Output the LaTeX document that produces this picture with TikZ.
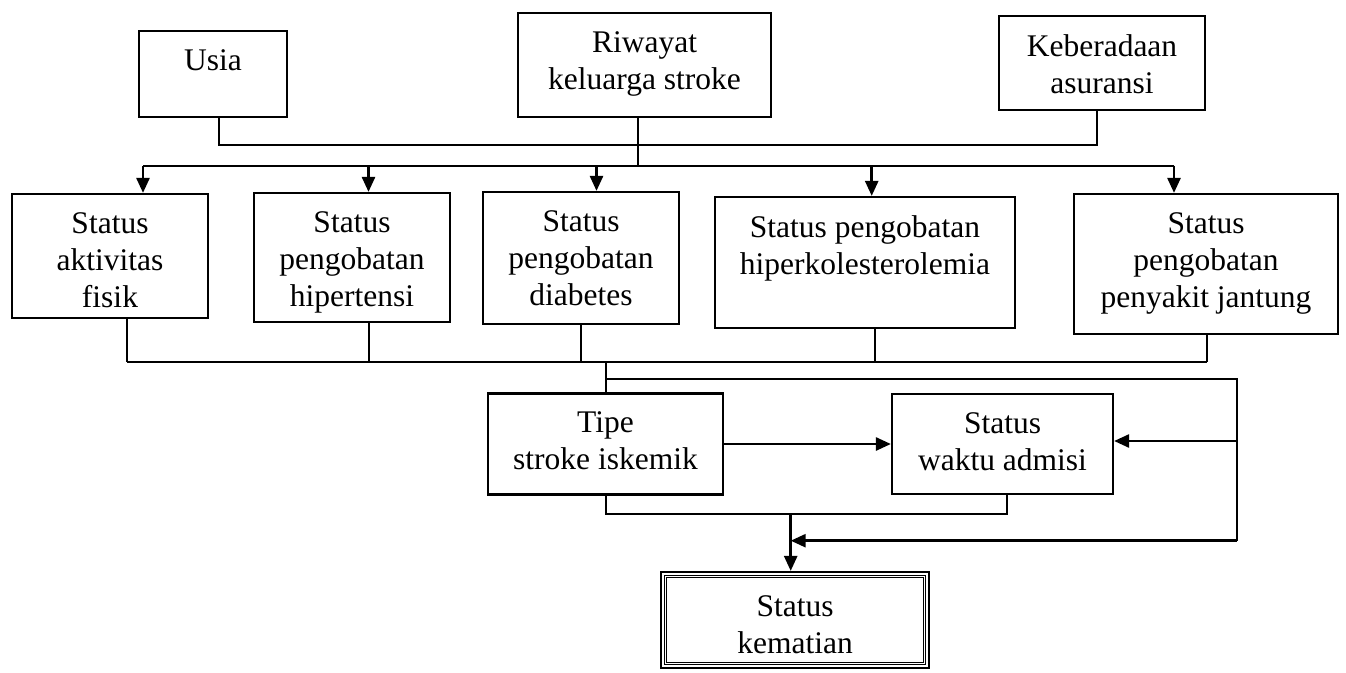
\documentclass[tikz,border=0pt]{standalone}
\usepackage{fontspec}
\setmainfont{Liberation Serif}
\usetikzlibrary{arrows.meta}
\tikzset{
  kotak/.style={draw, line width=2.2pt, inner sep=0pt},
  isi/.style={font=\fontsize{31.5}{37}\selectfont, align=center, anchor=north, inner sep=0pt, yshift=-19.5pt},
  garis/.style={line width=2.2pt},
  panah/.style={line width=2.6pt, -{Triangle[length=15pt,width=13pt]}},
}

\begin{document}
\begin{tikzpicture}[x=1pt,y=-1pt]
\useasboundingbox[fill=white] (0,0) rectangle (1346,672);

% faktor atas
\node[kotak, minimum width=148pt, minimum height=86pt, label={[isi]north:Usia}] (usia) at (213,74) {};
\node[kotak, minimum width=253pt, minimum height=104pt, label={[isi]north:Riwayat\\keluarga stroke}] (riwayat) at (644.5,65) {};
\node[kotak, minimum width=206pt, minimum height=94pt, label={[isi]north:Keberadaan\\asuransi}] (asuransi) at (1102,63) {};

% status
\node[kotak, minimum width=196pt, minimum height=124pt, label={[isi]north:Status\\aktivitas\\fisik}] (aktivitas) at (110,256) {};
\node[kotak, minimum width=196pt, minimum height=129pt, label={[isi]north:Status\\pengobatan\\hipertensi}] (hipertensi) at (352,257.5) {};
\node[kotak, minimum width=196pt, minimum height=132pt, label={[isi]north:Status\\pengobatan\\diabetes}] (diabetes) at (581,258) {};
\node[kotak, minimum width=300pt, minimum height=131pt, label={[isi]north:Status pengobatan\\hiperkolesterolemia}] (kolesterol) at (865,262.5) {};
\node[kotak, minimum width=264pt, minimum height=140pt, label={[isi]north:Status\\pengobatan\\penyakit jantung}] (jantung) at (1206,264) {};

\node[kotak, minimum width=235pt, minimum height=101pt, label={[isi]north:Tipe\\stroke iskemik}] (tipe) at (605.5,444) {};
\node[kotak, minimum width=221pt, minimum height=100pt, label={[isi]north:Status\\waktu admisi}] (waktu) at (1002.5,444) {};

% hasil akhir
\node[kotak, minimum width=268pt, minimum height=96pt, label={[isi, yshift=-5pt]north:Status\\kematian}] (kematian) at (795,620) {};
\draw[line width=1pt, double, double distance=1.2pt] ([shift={(5.6pt,-5.6pt)}]kematian.north west) rectangle ([shift={(-5.6pt,5.6pt)}]kematian.south east);

% garis atas
\draw[garis] ([xshift=6pt]usia.south) -- ++(0,27) -| ([xshift=-5pt]asuransi.south);
\draw[garis] ([xshift=-6.5pt]riwayat.south) -- ++(0,48.7);

\coordinate (d1) at (143,165.7);
\coordinate (d2) at (368.5,165.7);
\coordinate (d3) at (596.5,165.7);
\coordinate (d4) at (871.7,165.7);
\coordinate (d5) at (1174,165.7);
\draw[garis] (d1) -- (d5);
\foreach \d/\b in {d1/aktivitas,d2/hipertensi,d3/diabetes,d4/kolesterol,d5/jantung}
  \draw[panah] (\d) -- (\d |- \b.north);

% garis tengah
\coordinate (k1) at (127.3,361.7);
\coordinate (k2) at (369,361.7);
\coordinate (k3) at (581,361.7);
\coordinate (k4) at (875,361.7);
\coordinate (k5) at (1207,361.7);
\draw[garis] (k1) -- (k5);
\foreach \k/\b in {k1/aktivitas,k2/hipertensi,k3/diabetes,k4/kolesterol,k5/jantung}
  \draw[garis] (\k |- \b.south) -- (\k);

\coordinate (cabang) at (605.7,361.7);
\coordinate (balik) at (605.7,379);
\coordinate (ka1) at (1236.7,379);
\coordinate (ka2) at (1236.7,441);
\coordinate (ka3) at (1236.7,540.7);
\coordinate (batang) at (790.7,514);
\draw[garis] (cabang) -- (cabang |- tipe.north);
\draw[garis] (balik) -- (ka1) -- (ka3);
\draw[panah] (ka2) -- (waktu.east |- ka2);
\draw[panah] (ka3) -- (ka3 -| batang);
\draw[panah] (tipe.east) -- (waktu.west);

% garis bawah
\draw[garis] (cabang |- tipe.south) -- (cabang |- batang) -| ([xshift=4.2pt]waktu.south);
\draw[panah] (batang) -- (batang |- kematian.north);
\end{tikzpicture}
\end{document}
